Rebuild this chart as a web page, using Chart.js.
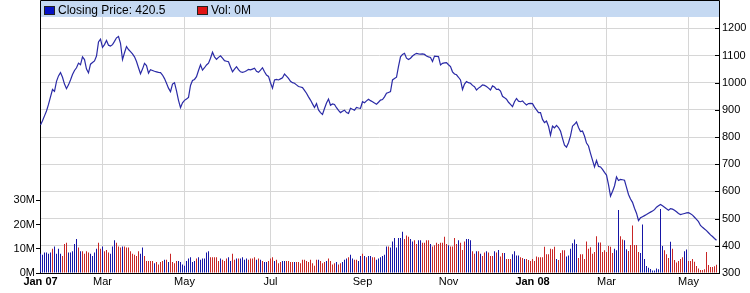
<!DOCTYPE html>
<html><head><meta charset="utf-8">
<script src="https://cdn.jsdelivr.net/npm/chart.js@4"></script>
<style>html,body{margin:0;padding:0;background:#fff}#wrap{width:750px;height:293px}</style>
</head><body><div id="wrap"><canvas id="c" width="750" height="293"></canvas></div>
<script>
// ---- data ----
const tickIndex = [0, 31, 72, 115, 161, 204, 246, 283, 324];
const tickLabels = ['Jan 07', 'Mar', 'May', 'Jul', 'Sep', 'Nov', 'Jan 08', 'Mar', 'May'];
const priceTicks = [300, 400, 500, 600, 700, 800, 900, 1000, 1100, 1200];
const volumeTicks = [0, 10, 20, 30];
const legendLabels = ['Closing Price: 420.5', 'Vol: 0M'];

const closingPrice = [
 844,860,878,896,920,948,975,968,1005,1025,
 1037,1020,995,978,992,1010,1030,1045,1055,1072,
 1066,1095,1085,1050,1036,1068,1074,1080,1098,1150,
 1160,1130,1140,1155,1138,1135,1140,1152,1165,1170,
 1145,1085,1110,1133,1122,1114,1106,1095,1078,1055,
 1033,1050,1071,1063,1035,1048,1045,1042,1040,1038,
 1037,1028,1015,998,980,967,995,1000,970,935,
 908,926,935,940,946,990,1008,1012,1022,1045,
 1066,1046,1055,1065,1072,1090,1112,1095,1086,1093,
 1099,1090,1081,1079,1077,1058,1040,1050,1059,1048,
 1040,1038,1040,1044,1049,1047,1050,1053,1042,1038,
 1046,1055,1040,1028,1023,1000,980,1010,1012,1010,
 1014,1018,1032,1024,1016,1005,1000,998,992,986,
 984,982,972,961,948,936,922,909,923,900,
 890,883,905,925,940,917,922,920,908,898,
 890,895,899,890,887,906,902,899,909,907,
 906,930,926,933,939,934,930,925,921,928,
 936,938,948,961,964,967,1010,1015,1020,1060,
 1095,1104,1108,1090,1085,1090,1098,1104,1108,1106,
 1105,1106,1104,1098,1095,1093,1078,1098,1097,1096,
 1065,1071,1073,1074,1066,1059,1040,1032,1029,1020,
 1010,975,995,1004,1000,998,990,985,973,980,
 985,992,990,986,980,973,988,984,975,976,
 969,950,945,939,928,920,912,930,942,932,
 930,933,925,918,923,924,923,910,900,890,
 890,865,853,859,840,807,840,834,843,835,
 822,795,770,763,779,804,840,847,856,835,
 820,822,804,778,767,740,715,690,714,692,
 690,681,670,660,625,583,600,620,653,640,
 644,643,641,615,589,572,560,538,520,493,
 503,507,511,515,520,524,528,533,542,547,
 552,547,542,536,531,537,535,531,525,519,
 515,517,519,521,522,518,513,505,497,489,
 475,468,462,456,448,440,434,427,420.5
];

const volumeM = [
 8,7.5,8.5,8.5,8,8.5,10,11,8,10,
 8,7,12,12.5,8.5,8.5,9,12,14,10.5,
 9,9,8,9,8.5,8,7,8.5,10,12.5,
 10,11,9,9.5,8.5,8,11,13.5,12.5,11,
 10.5,11,11,10.5,10.5,9,8,7.5,7,9,
 8,10.5,7,5,5,5,5,4,4.5,3.5,
 4.5,5,5.5,5.5,4.5,8,4.5,4,5,5,
 4.5,3.5,3,5,6,6.5,4.5,5,6,6.5,
 5.5,6,6,8.5,9,6.5,6.5,6.5,6.5,5,
 6,5.5,5,6,6.5,5,8,5.5,6,6,
 6,6.5,5.5,6,5.5,6,6,6.5,5.5,6,
 5.5,5,4.5,4.5,5,6,6.5,5,5.5,4,
 4.5,5,5,5,5,4.5,4.5,4.5,4.5,4.5,
 4,5.5,5.5,5,4.5,5.5,4,3,5.5,5.5,
 5,4,4.5,5,6,5,3.5,4,4.5,3.5,
 4,4.5,5.5,6,6.5,7.5,6,5.5,5.5,5,
 7,8,7,6.5,7,7,6.5,6.5,5.5,6,
 6.5,7,7.5,11,11,10.5,13,14.5,10.5,14.5,
 14.5,17,14,15.5,15,14,13,13.5,12,13.5,
 13.5,12.5,12.5,13.5,13.5,12,11,11.5,12.5,12,
 12.5,12.5,15,12,11.5,11,11,14.5,12,13.5,
 12.5,9.5,13,14,14,13.5,9,8,9,9,
 8,7,8.5,9,8.5,7,7,9,8.5,9.5,
 6.8,8.3,8.3,5.8,5.8,5.8,7.7,9,7.2,7.2,
 6.5,6.2,5.8,5.8,5.4,5,5.8,5,6.8,6.5,
 6.5,6.5,10.9,7.7,7.7,10,9.8,10.9,5.8,5.4,
 8.3,9.4,9.4,6.8,7.2,10,12.3,13.8,12,6.2,
 7.7,7.7,5.8,13,10,10.6,8,8.7,15.2,12.6,
 12.6,8.7,9.4,8.7,11.2,10.9,8.3,10,9.4,26,
 15.2,13.8,13.5,9.8,9.1,11.6,19.6,11.6,11.6,8.7,
 8.3,20,5.8,2.9,2.2,1.7,1,1,1.9,1.5,
 26.5,11.2,9.4,7.7,6.2,12.9,10,5.4,4.3,5,
 5.8,6.5,9,9.7,5,5,5.8,4.6,2.9,1.9,
 1.2,1.2,1.5,8.7,3.3,2.5,2.5,2.8,3.4
];

// u = up day (blue bar), d = down day (red bar)
const dayDirection = (
 "uuuuuuduuu" + "uddduuuuud" + "udddduuuud" + "duddduuudd" + "dudddddddd" +
 "uudddddudd" + "ddududdddu" + "uuuuuuuudu" + "uuuuuddddd" + "uddduuddud" +
 "uuuuddddud" + "uduudddudd" + "duuddddudd" + "dddddddddu" + "ddduddddud" +
 "duuuduuddu" + "ududuudduu" + "uuuuduuuuu" + "uuddduuddu" + "uddddudddd" +
 "dddduddddu" + "ddduuuddud" + "uddudddudu" + "dduddduuuu" + "dduddddddd" +
 "ddddddddud" + "ddduuuuuud" + "dddddddddu" + "ddddddduuu" + "dduudddddd" +
 "uuuuuuuuuu" + "uudddudddd" + "dduudddddd" + "ddddddddd"
).split('');

// ---- styles ----
const BLUE = '#1616a6';
const RED = '#c82626';
const LINE = '#2a2aa6';
const GRID = '#d6d6d6';
const FONT = '"Liberation Sans", Arial, sans-serif';

const days = closingPrice.map((_, i) => i);

const bandPlugin = {
  id: 'band',
  afterDraw(chart) {
    const { ctx, chartArea: a } = chart;
    ctx.save();
    ctx.fillStyle = '#c5d9f2';
    ctx.fillRect(a.left, 1, a.right - a.left, a.top - 1);
    ctx.strokeStyle = '#000';
    ctx.lineWidth = 1;
    ctx.beginPath();
    ctx.moveTo(a.left + 0.5, a.top); ctx.lineTo(a.left + 0.5, 0.5);
    ctx.lineTo(a.right + 0.5, 0.5); ctx.lineTo(a.right + 0.5, a.top);
    ctx.stroke();
    // right-axis tick marks point into the plot
    ctx.beginPath();
    const yp = chart.scales.yp;
    priceTicks.forEach(v => {
      const y = Math.round(yp.getPixelForValue(v)) + 0.5;
      ctx.moveTo(a.right - 4, y); ctx.lineTo(a.right + 1, y);
    });
    ctx.stroke();
    ctx.font = '12px ' + FONT;
    ctx.textBaseline = 'middle';
    const items = [['#0612c4', legendLabels[0], a.left + 4], ['#e01414', legendLabels[1], a.left + 157]];
    items.forEach(([col, txt, x]) => {
      ctx.fillStyle = col;
      ctx.fillRect(x, 6, 11, 9);
      ctx.strokeStyle = '#222';
      ctx.strokeRect(x + 0.5, 6.5, 10, 8);
      ctx.fillStyle = '#000';
      ctx.fillText(txt, x + 14, 10.5);
    });
    ctx.restore();
  }
};

new Chart(document.getElementById('c'), {
  type: 'bar',
  data: {
    datasets: [
      {
        type: 'line', label: 'Closing Price', yAxisID: 'yp', order: 0,
        data: days.map(i => ({ x: i, y: closingPrice[i] })),
        borderColor: LINE, borderWidth: 1.2, pointRadius: 0, tension: 0, fill: false
      },
      {
        type: 'bar', label: 'Vol', yAxisID: 'yv', order: 1,
        data: days.map(i => ({ x: i, y: volumeM[i] })),
        backgroundColor: days.map(i => dayDirection[i] === 'u' ? BLUE : RED),
        barThickness: 1, borderWidth: 0, inflateAmount: 0, borderSkipped: false
      }
    ]
  },
  options: {
    responsive: false, animation: false, devicePixelRatio: 1,
    layout: { padding: { top: 17, left: 0, right: 0, bottom: 0 } },
    plugins: { legend: { display: false }, tooltip: { enabled: false } },
    scales: {
      x: {
        type: 'linear', min: -0.25, max: 339.25, offset: false, position: 'bottom',
        afterBuildTicks: s => { s.ticks = tickIndex.map(v => ({ value: v })); },
        afterFit: s => { s.height = 20; },
        grid: { color: GRID, offset: false, drawTicks: false },
        border: { color: '#000' },
        ticks: {
          autoSkip: false, maxRotation: 0, padding: 2, color: '#000',
          font: c => ({ family: FONT, size: 11, weight: /^Jan/.test(tickLabels[c.index] || '') ? 'bold' : 'normal' }),
          callback: (v, i) => tickLabels[i]
        }
      },
      yv: {
        type: 'linear', position: 'left', min: 0, max: 105.8,
        afterBuildTicks: s => { s.ticks = volumeTicks.map(v => ({ value: v })); },
        afterFit: s => { s.width = 40; },
        grid: { drawOnChartArea: false, tickColor: '#000', tickLength: 4 },
        border: { color: '#000' },
        ticks: { padding: 1, color: '#000', font: { family: FONT, size: 11 }, callback: v => v + 'M' }
      },
      yp: {
        type: 'linear', position: 'right', min: 300, max: 1241.6,
        afterBuildTicks: s => { s.ticks = priceTicks.map(v => ({ value: v })); },
        afterFit: s => { s.width = 31; },
        grid: { color: GRID, tickColor: '#000', tickLength: 1 },
        border: { color: '#000' },
        ticks: { padding: 2, color: '#000', font: { family: FONT, size: 11 }, callback: v => String(v) }
      }
    }
  },
  plugins: [bandPlugin]
});
</script>
</body></html>
